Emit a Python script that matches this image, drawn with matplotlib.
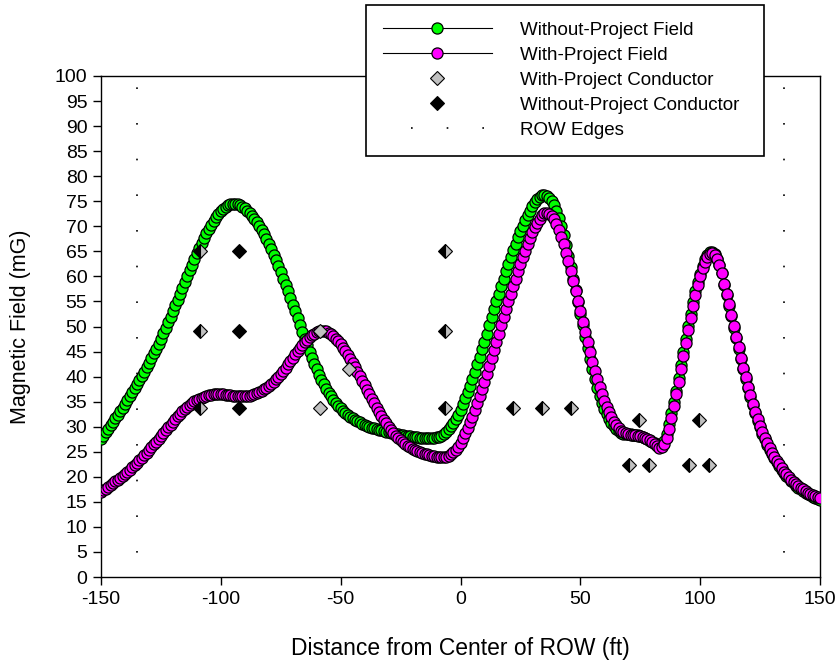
import numpy as np
import matplotlib
matplotlib.use("Agg")
import matplotlib.pyplot as plt
from matplotlib.lines import Line2D

plt.rcParams['font.family'] = ['Liberation Sans', 'DejaVu Sans']
plt.rcParams['axes.unicode_minus'] = False

# distance from centre of ROW (ft), one reading per foot
dist = np.arange(-150, 151)

# magnetic field without the project (mG)
field_without = [
    27.5, 28.2, 28.9, 29.6, 30.3, 31.0, 31.7, 32.4, 33.1, 33.8,
    34.6, 35.4, 36.1, 36.9, 37.7, 38.5, 39.3, 40.2, 41.0, 41.9,
    42.8, 43.7, 44.7, 45.6, 46.6, 47.6, 48.7, 49.7, 50.8, 51.9,
    53.0, 54.2, 55.3, 56.5, 57.6, 58.8, 60.0, 61.2, 62.3, 63.5,
    64.6, 65.7, 66.7, 67.7, 68.6, 69.5, 70.3, 71.1, 71.8, 72.4,
    73.0, 73.5, 73.9, 74.2, 74.4, 74.5, 74.5, 74.4, 74.2, 73.9,
    73.6, 73.1, 72.6, 72.0, 71.4, 70.8, 70.1, 69.3, 68.4, 67.5,
    66.5, 65.4, 64.3, 63.2, 62.0, 60.8, 59.5, 58.2, 57.0, 55.7,
    54.3, 53.0, 51.6, 50.3, 48.9, 47.6, 46.3, 45.0, 43.8, 42.6,
    41.5, 40.4, 39.4, 38.5, 37.6, 36.8, 36.1, 35.4, 34.8, 34.2,
    33.7, 33.2, 32.8, 32.4, 32.0, 31.7, 31.4, 31.1, 30.9, 30.6,
    30.4, 30.2, 30.0, 29.8, 29.7, 29.5, 29.4, 29.3, 29.1, 29.0,
    28.9, 28.8, 28.7, 28.6, 28.5, 28.4, 28.3, 28.2, 28.2, 28.1,
    28.0, 27.9, 27.9, 27.8, 27.8, 27.7, 27.7, 27.7, 27.7, 27.8,
    27.9, 28.0, 28.2, 28.5, 28.9, 29.5, 30.1, 30.8, 31.6, 32.4,
    33.3, 34.5, 35.7, 36.9, 38.2, 39.5, 41.0, 42.5, 44.0, 45.5,
    47.0, 48.6, 50.2, 51.8, 53.4, 55.0, 56.5, 58.0, 59.5, 61.0,
    62.5, 63.9, 65.2, 66.5, 67.8, 69.0, 70.1, 71.2, 72.2, 73.1,
    74.0, 74.8, 75.4, 75.9, 76.2, 76.3, 76.1, 75.7, 75.1, 74.2,
    73.0, 71.6, 70.0, 68.2, 66.2, 64.0, 61.8, 59.5, 57.2, 54.8,
    52.5, 50.2, 47.9, 45.7, 43.5, 41.5, 39.5, 37.7, 36.1, 34.7,
    33.5, 32.5, 31.6, 30.8, 30.1, 29.5, 29.1, 28.8, 28.6, 28.5,
    28.5, 28.5, 28.4, 28.4, 28.3, 28.2, 28.0, 27.8, 27.5, 27.2,
    27.0, 26.7, 26.4, 26.3, 26.5, 27.2, 28.6, 30.5, 32.7, 35.0,
    37.2, 39.8, 42.4, 45.0, 47.6, 50.1, 52.5, 54.8, 57.0, 58.9,
    60.5, 62.1, 63.4, 64.3, 64.8, 64.8, 64.4, 63.5, 62.2, 60.7,
    58.2, 56.2, 54.1, 52.0, 49.8, 47.7, 45.6, 43.5, 41.5, 39.6,
    37.7, 36.0, 34.3, 32.7, 31.2, 29.9, 28.6, 27.5, 26.4, 25.4,
    24.5, 23.7, 22.9, 22.2, 21.4, 20.7, 20.2, 19.7, 19.1, 18.7,
    18.2, 17.8, 17.5, 17.2, 16.8, 16.5, 16.3, 16.0, 15.8, 15.6,
    15.4,
]

# magnetic field with the project (mG)
field_with = [
    17.0, 17.3, 17.6, 18.0, 18.3, 18.7, 19.1, 19.4, 19.8, 20.2,
    20.6, 21.0, 21.4, 21.9, 22.3, 22.8, 23.3, 23.8, 24.3, 24.8,
    25.3, 25.9, 26.5, 27.0, 27.6, 28.2, 28.8, 29.3, 29.9, 30.4,
    31.0, 31.5, 32.1, 32.6, 33.1, 33.6, 34.0, 34.4, 34.8, 35.1,
    35.4, 35.6, 35.8, 36.0, 36.2, 36.3, 36.4, 36.5, 36.5, 36.5,
    36.5, 36.5, 36.4, 36.3, 36.3, 36.2, 36.2, 36.1, 36.1, 36.1,
    36.1, 36.1, 36.2, 36.3, 36.5, 36.7, 36.9, 37.2, 37.5, 37.8,
    38.2, 38.6, 39.0, 39.5, 40.0, 40.6, 41.2, 41.8, 42.5, 43.1,
    43.8, 44.5, 45.1, 45.7, 46.3, 46.9, 47.4, 47.9, 48.3, 48.6,
    48.9, 49.1, 49.2, 49.2, 49.1, 48.8, 48.5, 48.1, 47.6, 47.1,
    46.5, 45.8, 45.1, 44.4, 43.6, 42.8, 41.9, 41.0, 40.1, 39.2,
    38.3, 37.4, 36.5, 35.6, 34.7, 33.8, 33.0, 32.2, 31.4, 30.7,
    30.0, 29.4, 28.8, 28.2, 27.7, 27.3, 26.9, 26.5, 26.2, 25.9,
    25.6, 25.4, 25.2, 25.0, 24.8, 24.6, 24.5, 24.3, 24.2, 24.1,
    24.0, 23.9, 23.9, 23.9, 24.0, 24.2, 24.5, 24.9, 25.4, 26.0,
    26.8, 27.8, 28.8, 29.8, 30.9, 32.0, 33.3, 34.7, 36.1, 37.5,
    39.0, 40.6, 42.2, 43.8, 45.4, 47.0, 48.6, 50.2, 51.8, 53.4,
    55.0, 56.5, 58.0, 59.5, 61.0, 62.5, 63.8, 65.1, 66.4, 67.6,
    68.8, 69.8, 70.7, 71.5, 72.2, 72.6, 72.7, 72.5, 72.0, 71.4,
    70.5, 69.3, 67.9, 66.4, 64.7, 63.0, 61.1, 59.1, 57.1, 55.1,
    53.0, 50.9, 48.9, 46.9, 44.9, 43.0, 41.2, 39.5, 37.9, 36.5,
    35.2, 34.0, 32.9, 31.9, 31.0, 30.3, 29.7, 29.2, 28.9, 28.7,
    28.5, 28.4, 28.4, 28.3, 28.2, 28.1, 27.9, 27.7, 27.5, 27.3,
    27.0, 26.6, 26.1, 25.8, 25.9, 26.6, 27.8, 29.6, 31.8, 34.2,
    36.5, 39.0, 41.6, 44.2, 46.8, 49.3, 51.7, 54.0, 56.2, 58.2,
    60.0, 61.6, 62.9, 63.9, 64.5, 64.6, 64.3, 63.5, 62.3, 60.6,
    58.5, 56.5, 54.4, 52.3, 50.1, 48.0, 45.9, 43.8, 41.8, 39.9,
    38.0, 36.3, 34.6, 33.0, 31.5, 30.2, 28.9, 27.8, 26.7, 25.7,
    24.8, 24.0, 23.2, 22.5, 21.7, 21.0, 20.5, 20.0, 19.4, 19.0,
    18.5, 18.1, 17.8, 17.5, 17.1, 16.8, 16.6, 16.3, 16.1, 15.9,
    15.7,
]

# conductor positions (ft, height label level)
cond_with_x = [-108.5, -108.5, -108.5, -58.5, -46.5, -58.5, -6.5, -6.5, -6.5,
               22, 34, 46, 74.5, 99.5, 70.5, 78.5, 95.5, 103.5]
cond_with_y = [65.0, 49.2, 33.7, 49.2, 41.5, 33.7, 65.0, 49.2, 33.7,
               33.7, 33.7, 33.7, 31.4, 31.4, 22.4, 22.4, 22.4, 22.4]
cond_without_x = [-108.5, -108.5, -108.5, -92.5, -92.5, -92.5, -6.5, -6.5, -6.5,
                  22, 34, 46, 74.5, 99.5, 70.5, 78.5, 95.5, 103.5]
cond_without_y = [65.0, 49.2, 33.7, 65.0, 49.2, 33.7, 65.0, 49.2, 33.7,
                  33.7, 33.7, 33.7, 31.4, 31.4, 22.4, 22.4, 22.4, 22.4]

row_edges = [-135, 135]

GREEN = '#00ff00'
MAGENTA = '#ff00ff'
GRAY = '#c0c0c0'

fig = plt.figure(figsize=(8.38, 6.66), dpi=100)
ax = fig.add_axes([101 / 838, 89 / 666, 719 / 838, 501 / 666])

ax.plot(dist, field_without, color='black', lw=0.8, marker='o', ms=8.0,
        mfc=GREEN, mec='black', mew=0.9, zorder=3)
ax.plot(dist, field_with, color='black', lw=0.8, marker='o', ms=8.0,
        mfc=MAGENTA, mec='black', mew=0.9, zorder=4)

# split the conductors into shared / one-case-only
with_pts = set(zip(cond_with_x, cond_with_y))
without_pts = set(zip(cond_without_x, cond_without_y))
both = sorted(with_pts & without_pts)
only_with = sorted(with_pts - without_pts)
only_without = sorted(without_pts - with_pts)

dkw = dict(ls='none', marker='D', ms=7.5, mec='black', mew=0.8, zorder=5)
ax.plot([p[0] for p in only_with], [p[1] for p in only_with], mfc=GRAY, **dkw)
ax.plot([p[0] for p in only_without], [p[1] for p in only_without], mfc='black', **dkw)
ax.plot([p[0] for p in both], [p[1] for p in both], mfc='black',
        markerfacecoloralt=GRAY, fillstyle='left', **dkw)

for xe in row_edges:
    ax.plot([xe, xe], [0, 100], color='black', lw=1.2,
            ls=(6.8, (1.0, 20.4)), zorder=2)

ax.set_xlim(-150, 150)
ax.set_ylim(0, 100)
ax.set_xticks(np.arange(-150, 151, 50))
ax.set_yticks(np.arange(0, 101, 5))
ax.tick_params(direction='out', length=5.8, width=1.0, labelsize=14, pad=4,
               top=False, right=False)
for s in ax.spines.values():
    s.set_linewidth(1.0)

ax.set_xlabel('Distance from Center of ROW (ft)', fontsize=16.5)
ax.set_ylabel('Magnetic Field (mG)', fontsize=15.5)
ax.xaxis.set_label_coords(0.5, -0.12)
ax.yaxis.set_label_coords(-0.097, 0.5)

handles = [
    Line2D([], [], color='black', lw=0.8, marker='o', ms=8.0, mfc=GREEN, mec='black', mew=0.9),
    Line2D([], [], color='black', lw=0.8, marker='o', ms=8.0, mfc=MAGENTA, mec='black', mew=0.9),
    Line2D([], [], ls='none', marker='D', ms=7, mfc=GRAY, mec='black', mew=0.8),
    Line2D([], [], ls='none', marker='D', ms=7, mfc='black', mec='black', mew=0.8),
    Line2D([], [], color='black', lw=1.2, ls=(4.6, (1.0, 20.4))),
]
labels = ['Without-Project Field', 'With-Project Field', 'With-Project Conductor',
          'Without-Project Conductor', 'ROW Edges']
leg = ax.legend(handles, labels, loc='upper left',
                bbox_to_anchor=(0.3685, 1.1417, 0.5535, 0), mode='expand',
                borderaxespad=0, fontsize=13.5, handlelength=5.8, handletextpad=1.5,
                borderpad=0.9, labelspacing=0.42, fancybox=False, framealpha=1,
                edgecolor='black')
leg.get_frame().set_linewidth(1.2)
leg.set_zorder(10)

fig.savefig('out.png', dpi=100)
